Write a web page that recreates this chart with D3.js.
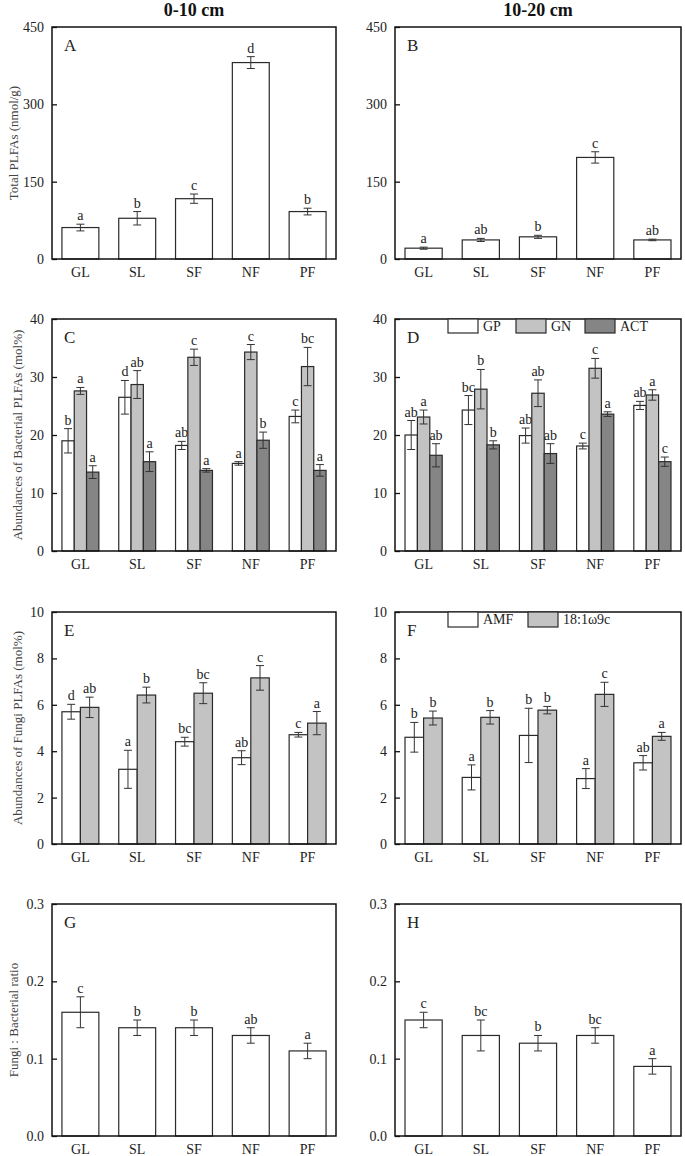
<!DOCTYPE html>
<html>
<head>
<meta charset="utf-8">
<script src="https://cdn.jsdelivr.net/npm/d3@7"></script>
<style>
	body { margin: 0; background: #fff; }
	text { font-family: "Liberation Serif", "Times New Roman", serif; fill: #222; }
</style>
</head>
<body>
<div id="chart"></div>
<script>

// data //////////////////////////////////////////////////////////////

let sites = ["GL", "SL", "SF", "NF", "PF"];

// A / B : total PLFAs
let totalTop		= [61, 79, 117, 381, 92],
	totalTopErr		= [6.5, 13, 9, 11.5, 6.5],
	totalTopLet		= ["a", "b", "c", "d", "b"],
	totalSub		= [21, 37, 43, 197, 37],
	totalSubErr		= [2, 3, 3, 11, 1.5],
	totalSubLet		= ["a", "ab", "b", "c", "ab"];

// C / D : bacterial groups
let bactSeries	= ["GP", "GN", "ACT"];

let gpTop		= [19.0, 26.5, 18.2, 15.1, 23.2],
	gpTopErr	= [2.1, 2.9, 0.7, 0.3, 1.1],
	gpTopLet	= ["b", "d", "ab", "a", "c"],
	gnTop		= [27.6, 28.7, 33.4, 34.3, 31.8],
	gnTopErr	= [0.6, 2.4, 1.4, 1.3, 3.3],
	gnTopLet	= ["a", "ab", "c", "c", "bc"],
	actTop		= [13.6, 15.4, 13.9, 19.1, 13.9],
	actTopErr	= [1.1, 1.7, 0.3, 1.4, 1.0],
	actTopLet	= ["a", "a", "a", "b", "a"];

let gpSub		= [20.0, 24.3, 19.9, 18.1, 25.1],
	gpSubErr	= [2.5, 2.5, 1.3, 0.5, 0.7],
	gpSubLet	= ["ab", "bc", "ab", "c", "ab"],
	gnSub		= [23.1, 27.9, 27.2, 31.5, 26.9],
	gnSubErr	= [1.2, 3.4, 2.3, 1.7, 0.9],
	gnSubLet	= ["a", "b", "ab", "c", "a"],
	actSub		= [16.5, 18.3, 16.8, 23.6, 15.4],
	actSubErr	= [2.0, 0.7, 1.7, 0.4, 0.8],
	actSubLet	= ["ab", "b", "ab", "a", "c"];

// E / F : fungal groups
let fungiSeries	= ["AMF", "18:1ω9c"];

let amfTop		= [5.70, 3.22, 4.41, 3.72, 4.71],
	amfTopErr	= [0.32, 0.82, 0.19, 0.30, 0.10],
	amfTopLet	= ["d", "a", "bc", "ab", "c"],
	oleTop		= [5.89, 6.42, 6.50, 7.16, 5.21],
	oleTopErr	= [0.44, 0.34, 0.45, 0.53, 0.50],
	oleTopLet	= ["ab", "b", "bc", "c", "a"];

let amfSub		= [4.60, 2.87, 4.68, 2.82, 3.50],
	amfSubErr	= [0.64, 0.54, 1.17, 0.43, 0.31],
	amfSubLet	= ["b", "a", "b", "a", "ab"],
	oleSub		= [5.43, 5.46, 5.77, 6.45, 4.64],
	oleSubErr	= [0.30, 0.29, 0.16, 0.52, 0.17],
	oleSubLet	= ["b", "b", "b", "c", "a"];

// G / H : fungi : bacteria ratio
let ratioTop	= [0.16, 0.14, 0.14, 0.13, 0.11],
	ratioTopErr	= [0.02, 0.01, 0.01, 0.01, 0.01],
	ratioTopLet	= ["c", "b", "b", "ab", "a"],
	ratioSub	= [0.15, 0.13, 0.12, 0.13, 0.09],
	ratioSubErr	= [0.01, 0.02, 0.01, 0.01, 0.01],
	ratioSubLet	= ["c", "bc", "b", "bc", "a"];

let depthTitles = ["0-10 cm", "10-20 cm"];

// layout ////////////////////////////////////////////////////////////

let canvasWidth		= 685,
	canvasHeight	= 1156,
	colX			= [[52, 336], [395, 681]],
	rowTop			= [27, 319, 612, 904],
	plotHeight		= 232;

let seriesFill = {
	"single":	"#ffffff",
	"GP":		"#ffffff",
	"GN":		"#c3c3c3",
	"ACT":		"#858585",
	"AMF":		"#ffffff",
	"18:1ω9c":	"#c3c3c3"
};

function makeSeries (names, vals, errs, lets) {
	return names.map(function (n, i) {
		return { name: n, values: vals[i], errs: errs[i], letters: lets[i] };
	});
};

let panels = [
	{ tag: "A", row: 0, col: 0, max: 450, ticks: [0, 150, 300, 450], fmt: d3.format("d"),
	  yLabel: "Total PLFAs (nmol/g)", yLabelX: 13,
	  series: makeSeries(["single"], [totalTop], [totalTopErr], [totalTopLet]) },
	{ tag: "B", row: 0, col: 1, max: 450, ticks: [0, 150, 300, 450], fmt: d3.format("d"),
	  series: makeSeries(["single"], [totalSub], [totalSubErr], [totalSubLet]) },
	{ tag: "C", row: 1, col: 0, max: 40, ticks: [0, 10, 20, 30, 40], fmt: d3.format("d"),
	  yLabel: "Abundances of Bacterial PLFAs (mol%)", yLabelX: 17,
	  series: makeSeries(bactSeries, [gpTop, gnTop, actTop], [gpTopErr, gnTopErr, actTopErr], [gpTopLet, gnTopLet, actTopLet]) },
	{ tag: "D", row: 1, col: 1, max: 40, ticks: [0, 10, 20, 30, 40], fmt: d3.format("d"), legend: true,
	  series: makeSeries(bactSeries, [gpSub, gnSub, actSub], [gpSubErr, gnSubErr, actSubErr], [gpSubLet, gnSubLet, actSubLet]) },
	{ tag: "E", row: 2, col: 0, max: 10, ticks: [0, 2, 4, 6, 8, 10], fmt: d3.format("d"),
	  yLabel: "Abundances of Fungi PLFAs (mol%)", yLabelX: 17,
	  series: makeSeries(fungiSeries, [amfTop, oleTop], [amfTopErr, oleTopErr], [amfTopLet, oleTopLet]) },
	{ tag: "F", row: 2, col: 1, max: 10, ticks: [0, 2, 4, 6, 8, 10], fmt: d3.format("d"), legend: true,
	  series: makeSeries(fungiSeries, [amfSub, oleSub], [amfSubErr, oleSubErr], [amfSubLet, oleSubLet]) },
	{ tag: "G", row: 3, col: 0, max: 0.3, ticks: [0, 0.1, 0.2, 0.3], fmt: d3.format(".1f"),
	  yLabel: "Fungi : Bacterial ratio", yLabelX: 13,
	  series: makeSeries(["single"], [ratioTop], [ratioTopErr], [ratioTopLet]) },
	{ tag: "H", row: 3, col: 1, max: 0.3, ticks: [0, 0.1, 0.2, 0.3], fmt: d3.format(".1f"),
	  series: makeSeries(["single"], [ratioSub], [ratioSubErr], [ratioSubLet]) }
];

// draw //////////////////////////////////////////////////////////////

let svg = d3.select("#chart")
	.append("svg")
		.attr("width", canvasWidth)
		.attr("height", canvasHeight);

// column titles
depthTitles.forEach(function (t, i) {
	svg.append("text")
		.attr("x", (colX[i][0] + colX[i][1]) / 2)
		.attr("y", 16)
		.attr("text-anchor", "middle")
		.style("font-size", "18px")
		.style("font-weight", "bold")
		.style("fill", "#111")
		.text(t);
});

panels.forEach(drawPanel);

function drawPanel (p) {

	let x0 = colX[p.col][0],
		x1 = colX[p.col][1],
		top = rowTop[p.row],
		bottom = top + plotHeight;

	let xScale = d3.scaleBand()
		.domain(sites)
		.range([x0, x1])
		.paddingInner(0.35)
		.paddingOuter(0.175);

	let subScale = d3.scaleBand()
		.domain(p.series.map(function (s) { return s.name; }))
		.range([0, xScale.bandwidth()]);

	let yScale = d3.scaleLinear()
		.domain([0, p.max])
		.range([bottom, top]);

	let g = svg.append("g");

	// bars, error bars, letters
	p.series.forEach(function (s) {

		let bx = function (i) { return xScale(sites[i]) + subScale(s.name); },
			bw = subScale.bandwidth(),
			cx = function (i) { return bx(i) + bw / 2; };

		let sg = g.append("g");

		sg.selectAll(".bar")
			.data(s.values)
				.enter()
					.append("rect")
						.attr("x", function (d, i) { return bx(i); })
						.attr("y", function (d) { return yScale(d); })
						.attr("width", bw)
						.attr("height", function (d) { return bottom - yScale(d); })
						.style("fill", seriesFill[s.name])
						.style("stroke", "#2a2a2a")
						.style("stroke-width", 1.2);

		let capHalf = 4;

		sg.selectAll(".err")
			.data(s.values)
				.enter()
					.append("path")
						.attr("d", function (d, i) {
							let c = cx(i),
								hi = yScale(d + s.errs[i]),
								lo = yScale(d - s.errs[i]);
							return "M" + (c - capHalf) + "," + hi + "H" + (c + capHalf) +
								"M" + c + "," + hi + "V" + lo +
								"M" + (c - capHalf) + "," + lo + "H" + (c + capHalf);
						})
						.style("fill", "none")
						.style("stroke", "#333")
						.style("stroke-width", 1);

		sg.selectAll(".lab")
			.data(s.values)
				.enter()
					.append("text")
						.attr("x", function (d, i) { return cx(i); })
						.attr("y", function (d, i) { return yScale(d + s.errs[i]) - 4; })
						.attr("text-anchor", "middle")
						.style("font-size", "14px")
						.text(function (d, i) { return s.letters[i]; });
	});

	// frame
	g.append("rect")
		.attr("x", x0)
		.attr("y", top)
		.attr("width", x1 - x0)
		.attr("height", plotHeight)
		.style("fill", "none")
		.style("stroke", "#111")
		.style("stroke-width", 1.5);

	// y axis, inward ticks
	let yAxis = d3.axisLeft(yScale)
		.tickValues(p.ticks)
		.tickFormat(p.fmt)
		.tickSizeInner(-5)
		.tickSizeOuter(0)
		.tickPadding(8);

	let ya = g.append("g")
		.attr("transform", "translate(" + x0 + ",0)")
		.call(yAxis);
	ya.select(".domain").remove();
	ya.selectAll("line").style("stroke", "#111").style("stroke-width", 1.3);
	ya.selectAll("text")
		.style("font-family", "Liberation Serif, serif")
		.style("font-size", "14px")
		.style("fill", "#222");

	// x labels
	let xAxis = d3.axisBottom(xScale)
		.tickSize(0)
		.tickPadding(8);

	let xa = g.append("g")
		.attr("transform", "translate(0," + bottom + ")")
		.call(xAxis);
	xa.select(".domain").remove();
	xa.selectAll("text")
		.style("font-family", "Liberation Serif, serif")
		.style("font-size", "14px")
		.style("fill", "#222");

	// panel letter
	g.append("text")
		.attr("x", x0 + 12)
		.attr("y", top + 24)
		.style("font-size", "17px")
		.text(p.tag);

	// y label
	if (p.yLabel) {
		g.append("text")
			.attr("transform", "translate(" + p.yLabelX + "," + (top + plotHeight / 2) + ") rotate(-90)")
			.attr("text-anchor", "middle")
			.attr("dy", "0.35em")
			.style("font-size", "13px")
			.style("fill", "#444")
			.text(p.yLabel);
	}

	// legend hanging from top frame
	if (p.legend) {
		let names = p.series.map(function (s) { return s.name; }),
			legendX = p.series.length === 3 ? [448, 516, 585] : [448, 528],
			boxW = 30,
			boxH = p.series.length === 3 ? 14 : 15;

		names.forEach(function (n, i) {
			g.append("rect")
				.attr("x", legendX[i])
				.attr("y", top)
				.attr("width", boxW)
				.attr("height", boxH)
				.style("fill", seriesFill[n])
				.style("stroke", "#2a2a2a")
				.style("stroke-width", 1.2);

			g.append("text")
				.attr("x", legendX[i] + boxW + 5)
				.attr("y", top + 12)
				.style("font-size", "14px")
				.text(n);
		});
	}
};

</script>
</body>
</html>
